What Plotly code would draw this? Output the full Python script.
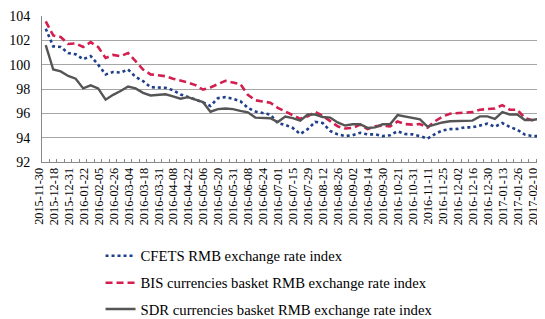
import plotly.graph_objects as go

dates = [
    "2015-11-30", "2015-12-11", "2015-12-18", "2015-12-25", "2015-12-31", "2016-01-15",
    "2016-01-22", "2016-01-29", "2016-02-05", "2016-02-19", "2016-02-26", "2016-03-01",
    "2016-03-04", "2016-03-11", "2016-03-18", "2016-03-25", "2016-03-31", "2016-04-01",
    "2016-04-08", "2016-04-15", "2016-04-22", "2016-04-29", "2016-05-06", "2016-05-13",
    "2016-05-20", "2016-05-27", "2016-05-31", "2016-06-03", "2016-06-08", "2016-06-17",
    "2016-06-24", "2016-06-30", "2016-07-01", "2016-07-08", "2016-07-15", "2016-07-22",
    "2016-07-29", "2016-08-05", "2016-08-12", "2016-08-19", "2016-08-26", "2016-08-31",
    "2016-09-02", "2016-09-09", "2016-09-14", "2016-09-23", "2016-09-30", "2016-10-14",
    "2016-10-21", "2016-10-28", "2016-10-31", "2016-11-04", "2016-11-11", "2016-11-18",
    "2016-11-25", "2016-11-30", "2016-12-02", "2016-12-09", "2016-12-16", "2016-12-23",
    "2016-12-30", "2017-01-06", "2017-01-13", "2017-01-20", "2017-01-26", "2017-02-03",
    "2017-02-10", "2017-02-17",
]

cfets = [
    102.95, 101.5, 101.45, 100.95, 100.85, 100.45, 100.7, 100.0, 99.2, 99.4,
    99.35, 99.6, 99.0, 98.65, 98.15, 98.15, 98.1, 97.9, 97.55, 97.35,
    97.15, 96.9, 96.6, 97.25, 97.33, 97.2, 97.0, 96.45, 96.15, 96.0,
    95.9, 95.2, 95.05, 94.8, 94.3, 94.7, 95.3, 95.2, 94.55, 94.27,
    94.13, 94.2, 94.4, 94.27, 94.27, 94.13, 94.2, 94.53, 94.3, 94.27,
    94.13, 93.92, 94.3, 94.6, 94.7, 94.72, 94.85, 94.85, 95.0, 95.15,
    94.9, 95.2, 94.88, 94.65, 94.25, 94.13, 94.13, 94.25,
]

bis = [
    103.55, 102.4, 102.27, 101.7, 101.75, 101.45, 101.85, 101.45, 100.55, 100.8,
    100.7, 100.95, 100.3, 99.6, 99.2, 99.1, 99.05, 98.85, 98.72, 98.53,
    98.32, 97.95, 98.13, 98.4, 98.67, 98.53, 98.4, 97.52, 97.07, 96.97,
    96.88, 96.45, 96.15, 95.87, 95.55, 95.75, 96.13, 95.8, 95.33, 94.93,
    94.75, 94.8, 95.07, 94.7, 94.93, 95.0, 94.93, 95.33, 95.12, 95.07,
    95.12, 94.82, 95.35, 95.73, 95.97, 96.0, 96.04, 96.1, 96.3, 96.38,
    96.4, 96.67, 96.3, 96.3, 95.62, 95.43, 95.47, 95.7,
]

sdr = [
    101.6, 99.6, 99.45, 99.07, 98.85, 98.05, 98.3, 98.05, 97.12, 97.52,
    97.84, 98.2, 98.05, 97.68, 97.47, 97.52, 97.57, 97.4, 97.2, 97.33,
    97.15, 96.93, 96.13, 96.35, 96.4, 96.35, 96.2, 96.08, 95.65, 95.62,
    95.6, 95.28, 95.73, 95.6, 95.4, 95.9, 95.9, 95.7, 95.65, 95.25,
    95.0, 95.1, 95.1, 94.8, 94.85, 95.1, 95.1, 95.85, 95.75, 95.6,
    95.5, 94.9, 95.1, 95.25, 95.35, 95.35, 95.4, 95.4, 95.75, 95.75,
    95.55, 96.1, 95.9, 95.9, 95.45, 95.45, 95.55, 95.95,
]

tick_labels = [d if i % 2 == 0 else "" for i, d in enumerate(dates)]
y_ticks = [92, 94, 96, 98, 100, 102, 104]

names = [
    "CFETS RMB exchange rate index",
    "BIS currencies basket RMB exchange rate index",
    "SDR currencies basket RMB exchange rate index",
]

serif = "Liberation Serif, Times New Roman, serif"

fig = go.Figure()
fig.add_trace(go.Scatter(x=dates, y=cfets, mode="lines", name=names[0],
                         line=dict(color="#1f3f8a", width=2.6, dash="dot"),
                         legend="legend", showlegend=True))
fig.add_trace(go.Scatter(x=dates, y=bis, mode="lines", name=names[1],
                         line=dict(color="#d21f4f", width=2.6, dash="7px,4px"),
                         legend="legend2", showlegend=True))
fig.add_trace(go.Scatter(x=dates, y=sdr, mode="lines", name=names[2],
                         line=dict(color="#555555", width=2.4),
                         legend="legend3", showlegend=True))

leg_common = dict(font=dict(family=serif, size=14.7, color="#000"),
                  bgcolor="rgba(0,0,0,0)", borderwidth=0,
                  xanchor="left", yanchor="middle", x=0.115)

fig.update_layout(
    width=545, height=319,
    showlegend=True,
    margin=dict(l=33.5, r=1.5, t=8.3, b=160.7),
    paper_bgcolor="white", plot_bgcolor="white",
    font=dict(family=serif, size=12, color="#000"),
    legend=dict(**leg_common, y=-0.645),
    legend2=dict(**leg_common, y=-0.83),
    legend3=dict(**leg_common, y=-1.01),
    xaxis=dict(
        type="category", categoryorder="array", categoryarray=dates,
        range=[-0.5, len(dates) - 0.5],
        tickmode="array", tickvals=dates, ticktext=tick_labels,
        tickson="boundaries",
        tickangle=-90, tickfont=dict(family=serif, size=12.3, color="#000"),
        ticklabeloverflow="allow", ticklabelshift=-7,
        ticks="inside", ticklen=3, tickcolor="#888888",
        showline=True, linecolor="#888888", linewidth=1,
        showgrid=False, zeroline=False,
    ),
    yaxis=dict(
        range=[92, 104], tickmode="array", tickvals=y_ticks,
        tickfont=dict(family=serif, size=14, color="#000"),
        showline=True, linecolor="#888888", linewidth=1,
        showgrid=True, gridcolor="#a6a6a6", gridwidth=1,
        zeroline=False, ticks="", ticklabelstandoff=8,
    ),
)

fig.write_html("out.html")
